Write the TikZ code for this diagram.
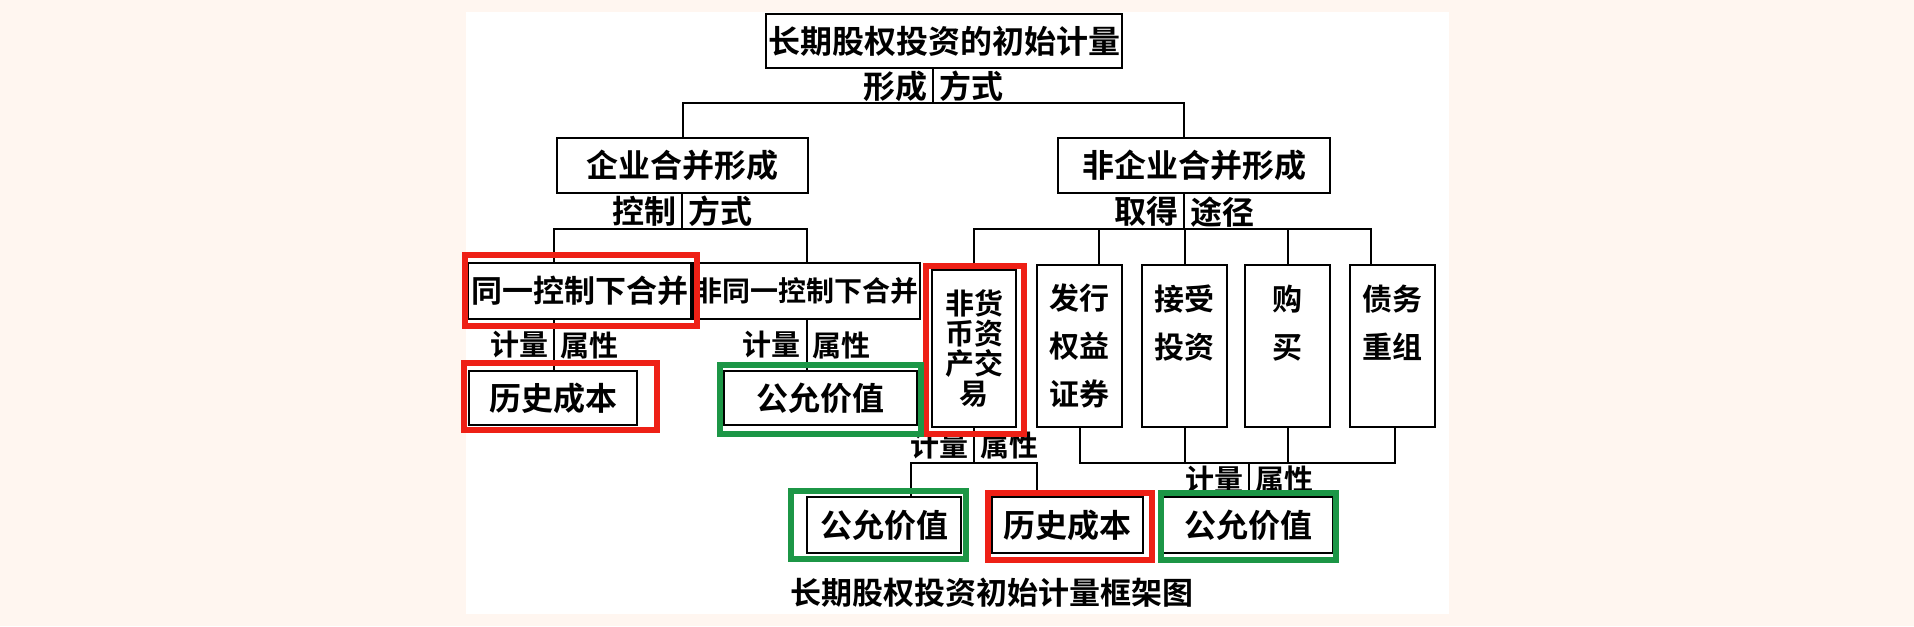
\documentclass[tikz,border=0pt]{standalone}
\usepackage{fontspec}
\setmainfont{Noto Sans CJK SC}[BoldFont={Noto Sans CJK SC Bold}]
\usepackage{tikz}
\definecolor{bgcream}{RGB}{255,246,240}
\definecolor{markred}{RGB}{238,32,22}
\definecolor{markgreen}{RGB}{28,150,70}
\newcommand{\cjksize}[2]{\fontsize{#1}{#2}\selectfont}
\tikzset{
  box/.style={rectangle, draw, line width=1.3pt, inner sep=0pt, font=\bfseries\cjksize{16pt}{19pt}},
  tallbox/.style={box, align=center, minimum width=42.5pt, minimum height=81pt, font=\bfseries\cjksize{15pt}{24pt}},
  lbl/.style={inner sep=2.5pt, font=\bfseries\cjksize{14.5pt}{16pt}},
  biglbl/.style={lbl, font=\bfseries\cjksize{16pt}{18pt}},
  link/.style={line width=1pt},
  redmark/.style={draw=markred, line width=3pt},
  greenmark/.style={draw=markgreen, line width=3pt},
}

\begin{document}
\begin{tikzpicture}[x=0.5pt, y=-0.5pt]
  % Background
  \useasboundingbox (0,0) rectangle (1914,626);
  \fill[bgcream] (0,0) rectangle (1914,626);
  \fill[white] (466,12) rectangle (1449,614);

  % Nodes
  \node[box, minimum width=178pt, minimum height=27pt] (title) at (944,41) {长期股权投资的初始计量};
  \node[box, minimum width=125.5pt, minimum height=27.5pt] (comb) at (682.5,165.5) {企业合并形成};
  \node[box, minimum width=136pt, minimum height=27.5pt] (noncomb) at (1194,165.5) {非企业合并形成};
  \node[box, minimum width=111.5pt, minimum height=28pt, font=\bfseries\cjksize{15.5pt}{18pt}] (same) at (579.5,291) {同一控制下合并};
  \node[box, minimum width=113.5pt, minimum height=28pt, font=\bfseries\cjksize{14pt}{17pt}] (diff) at (806.5,291) {非同一控制下合并};
  \node[box, minimum width=84pt, minimum height=27pt] (hcost1) at (553,398) {历史成本};
  \node[box, minimum width=96.5pt, minimum height=27pt] (fair1) at (820.5,398) {公允价值};

  % Tall boxes
  \node[tallbox, minimum width=42pt, minimum height=78.5pt, font=\bfseries\cjksize{14.5pt}{15pt}] (nonmon) at (974,348.5) {非货\\币资\\产交\\易};
  \node[tallbox] (issue) at (1079.5,346) {发行\\权益\\证券};
  \node[tallbox] (accept) at (1184.5,346) {接受\\投资\\\mbox{}};
  \node[tallbox] (buy) at (1287.5,346) {购\\买\\\mbox{}};
  \node[tallbox] (debt) at (1392.5,346) {债务\\重组\\\mbox{}};

  % Bottom row
  \node[box, minimum width=77pt, minimum height=28pt] (fair2) at (884,525) {公允价值};
  \node[box, minimum width=75.5pt, minimum height=28pt] (hcost2) at (1067.5,525) {历史成本};
  \node[box, minimum width=85pt, minimum height=28pt] (fair3) at (1248,525) {公允价值};
  \node[font=\bfseries\cjksize{15.5pt}{18pt}] (caption) at (992,593) {长期股权投资初始计量框架图};

  % Junctions
  \coordinate (jtop) at (933,103);
  \coordinate (jcomb) at (682,229);
  \coordinate (jnon) at (1184,229);
  \coordinate (jswap) at (974,463);
  \coordinate (jbuy) at (1249,463);

  % Links
  \draw[link] (title.south -| jtop) -- node[biglbl, left] {形成} node[biglbl, right] {方式} (jtop);
  \draw[link] (comb.north) |- (jtop) -| ([xshift=-5pt]noncomb.north);
  \draw[link] (comb.south -| jcomb) -- node[biglbl, left] {控制} node[biglbl, right] {方式} (jcomb);
  \draw[link] ([xshift=-12.75pt]same.north) |- (jcomb) -| (diff.north);
  \draw[link] (noncomb.south -| jnon) -- node[biglbl, left] {取得} node[biglbl, right] {途径} (jnon);
  \draw[link] (nonmon.north) |- (jnon) -| ([xshift=-10.75pt]debt.north);
  \draw[link] ([xshift=9.75pt]issue.north) -- ([xshift=9.75pt]issue.north |- jnon);
  \foreach \n in {accept, buy}
    \draw[link] (\n.north) -- (\n.north |- jnon);

  % Measurement links
  \draw[link] ([xshift=-12.75pt]same.south) -- node[lbl, left] {计量} node[lbl, right] {属性} ([xshift=-12.75pt]same.south |- hcost1.north);
  \draw[link] (diff.south) -- node[lbl, left] {计量} node[lbl, right] {属性} (diff.south |- fair1.north);
  \draw[link] (nonmon.south) -- node[lbl, left] {计量} node[lbl, right] {属性} (jswap);
  \draw[link] ([xshift=13.5pt]fair2.north) |- (jswap) -| ([xshift=-15.25pt]hcost2.north);
  \draw[link] (issue.south) |- (jbuy) -| ([xshift=1.25pt]debt.south);
  \foreach \n in {accept, buy}
    \draw[link] (\n.south) -- (\n.south |- jbuy);
  \draw[link] (jbuy) -- node[lbl, left] {计量} node[lbl, right] {属性} (jbuy |- fair3.north);

  % Highlights
  \draw[redmark] (465,255) rectangle (697,326);
  \draw[redmark] (464,363) rectangle (657,430);
  \draw[redmark] (926,266) rectangle (1024,434);
  \draw[redmark] (988,493) rectangle (1152,560);
  \draw[greenmark] (720,365) rectangle (921,434);
  \draw[greenmark] (791,491) rectangle (966,559);
  \draw[greenmark] (1161,493) rectangle (1336,560);
\end{tikzpicture}
\end{document}
